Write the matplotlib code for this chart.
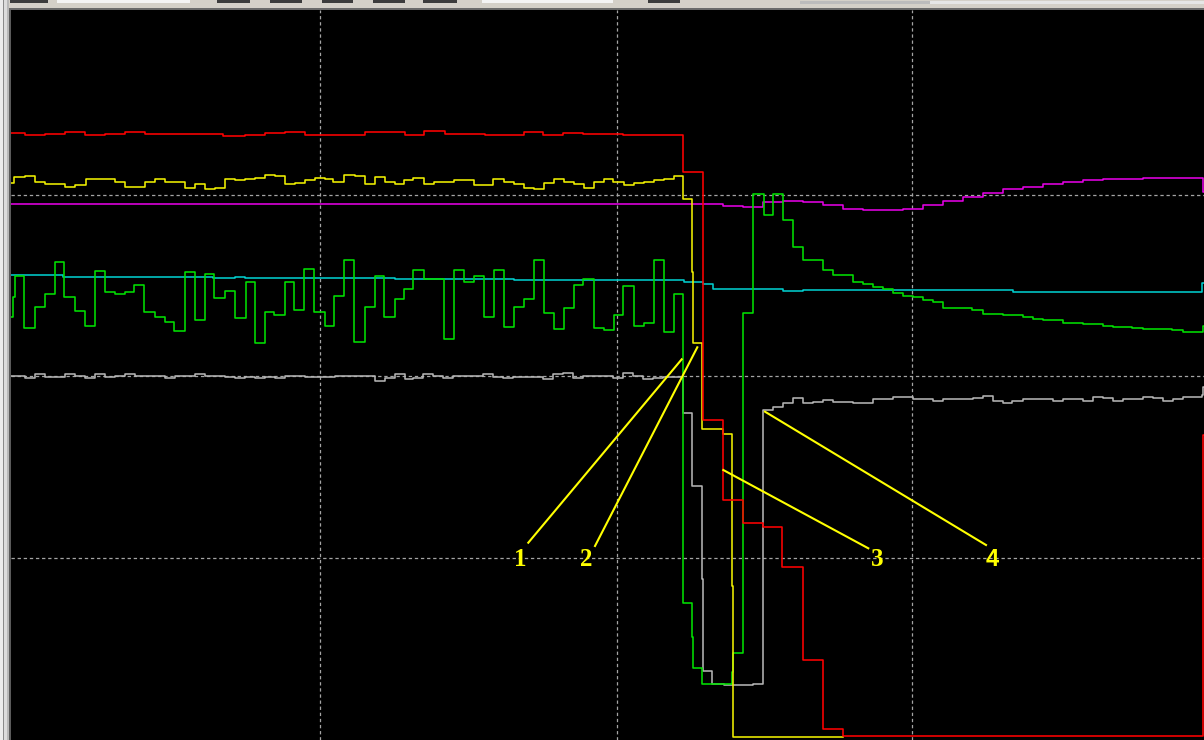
import matplotlib
matplotlib.use("Agg")
import matplotlib.pyplot as plt
from matplotlib.patches import Rectangle

# strip-chart recording: x in samples, y in raw counts (0 at the bottom of the trace area)

red_x = [11, 25, 45, 65, 85, 105, 125, 145, 223, 245, 265, 285, 305, 365, 405, 424, 445, 485,
         524, 543, 563, 583, 623, 683, 703, 723, 743, 763, 782, 803, 823, 843, 1203, 1204]
red_v = [607, 605, 606.5, 608, 605, 606.5, 608, 606.5, 604, 605.5, 607, 608, 605.5, 608, 605, 609, 606.5, 605,
         608, 605, 607.5, 606.5, 605, 568, 320, 240, 217, 213, 173, 80, 11, 4, 305, 305]

yellow_x = [11, 14, 25, 35, 45, 65, 75, 86, 115, 125, 145, 155, 165, 185, 195, 205, 215, 225, 235, 245,
            255, 265, 275, 285, 295, 305, 315, 325, 333, 344, 355, 365, 375, 385, 395, 404, 413, 424, 434, 454,
            474, 493, 504, 514, 524, 534, 544, 554, 564, 574, 584, 594, 604, 613, 624, 634, 644, 654, 664, 674,
            683, 692, 693, 702, 723, 732, 733, 843]
yellow_v = [557.3, 562.7, 564, 558.3, 556, 553.3, 555, 561.3, 558.3, 553.3, 558, 561.3, 558.3, 552, 555.7, 551, 552.3, 561.3, 560, 561.3,
            562.3, 565, 564, 556, 557.3, 560, 562.3, 561.3, 558.3, 565, 564, 556, 562.7, 558.3, 556, 560, 562, 556, 558.3, 560,
            555, 561.3, 558.3, 556, 552.3, 551, 557.3, 561.3, 558.3, 556, 552.3, 558.3, 561.3, 558.3, 555, 557.3, 558.3, 560, 561.3, 564,
            541, 468, 397, 311, 306, 154, 3, 3]

magenta_x = [11, 723, 743, 763, 783, 803, 823, 843, 863, 903, 923, 943, 963, 983, 1003, 1023, 1043,
             1063, 1083, 1103, 1143, 1203, 1204]
magenta_v = [535.7, 534, 532.7, 538, 539.3, 538, 535.3, 531.3, 530.3, 531.3, 535.3, 539.3, 543, 547, 551, 553.3, 556,
             558.3, 560, 561.3, 562.3, 548, 548]

cyan_x = [11, 63, 213, 235, 245, 395, 514, 684, 703, 713, 783, 803, 1013, 1202, 1204]
cyan_v = [465, 463.3, 462, 463.3, 462, 461, 459.7, 458, 456, 451, 449, 450, 448, 457, 457]

green_x = [11, 13.3, 15, 24, 35, 45, 55, 64.3, 75, 85, 95, 105, 115, 125, 134.3, 144.3, 155, 165, 174.3, 185,
           195, 205, 214.3, 225, 235, 245.7, 255, 265, 274.3, 285, 294.3, 304.3, 314.3, 325, 334.3, 344.3, 354.3, 365, 375, 384.3,
           395, 404, 413.3, 424, 444, 454, 464.3, 474, 484, 494, 504, 514.3, 524.3, 534, 544, 554, 564, 574, 583.3, 594,
           604, 614, 623.3, 634, 644, 654, 664, 674, 683, 692, 693, 702, 732, 733, 743, 753, 764, 773, 783, 793,
           803, 823, 833, 853, 863, 873, 883, 893, 903, 913, 923, 933, 943, 972, 983, 1003, 1023, 1033, 1043, 1063,
           1083, 1103, 1113, 1132, 1143, 1172, 1183, 1203, 1204]
green_v = [422.7, 443.3, 464, 412.3, 432.7, 446, 477.7, 443.3, 429.3, 414.3, 469, 448.3, 446, 448.3, 455, 427.7, 423.3, 417.7, 409.3, 467.7,
           420, 465.7, 441.7, 449.3, 421.7, 458.3, 396.7, 427.7, 425, 458.3, 430, 471, 427.7, 414.3, 444.3, 480, 398.3, 432.7, 464, 423.3,
           440.7, 450.7, 470, 461, 400.7, 470, 458.3, 464, 423.3, 470, 413.3, 432.7, 440.7, 480, 426.7, 410.7, 431.7, 455, 460.7, 412.3,
           410, 425, 454.3, 414.3, 416.7, 480, 408.3, 445.7, 137.3, 103, 72, 56, 68, 87, 427, 546, 525.3, 546, 520, 493.3,
           480, 470, 465, 458.3, 456, 453.3, 450.7, 446.7, 444, 442.7, 440, 437.7, 432.3, 430, 426, 425, 423.3, 421, 420, 417.3,
           416, 414, 413.3, 412.3, 411, 410, 408.3, 414, 414]

gray_x = [11, 25, 35, 45, 65, 75, 85, 95, 105, 115, 125, 135, 165, 175, 195, 205, 225, 235, 245, 255,
          265, 275, 285, 305, 335, 375, 385, 395, 405, 413, 423, 433, 443, 453, 483, 493, 503, 513, 543, 553,
          563, 573, 583, 613, 623, 633, 643, 653, 663, 683, 692, 702, 703, 712, 724, 753, 763, 773, 783, 793,
          803, 813, 823, 833, 853, 873, 893, 913, 933, 943, 973, 983, 993, 1003, 1012, 1023, 1053, 1063, 1083, 1093,
          1103, 1113, 1123, 1143, 1153, 1163, 1173, 1183, 1202, 1203, 1204]
gray_v = [364.3, 362.3, 365.7, 362.7, 365.7, 364.3, 362.3, 366, 362.7, 364.3, 365.7, 364.3, 362.3, 364.3, 365.7, 364.3, 363.3, 362.3, 363.3, 362.3,
          363.3, 362.3, 364.3, 363.3, 364.3, 359.3, 361.7, 365.7, 360.7, 362.3, 365.7, 364.3, 362.3, 364.3, 365.7, 363.3, 362.3, 363.3, 360.7, 365.7,
          367.3, 362.3, 364, 362.3, 366.7, 364.3, 360.7, 362.3, 363.3, 327.3, 254, 161, 69.3, 56, 54.7, 56, 330, 333.3, 337, 342,
          337, 338.3, 340, 338.3, 337.3, 340.7, 342.7, 341, 339.3, 341, 341.7, 344.3, 339.3, 336.7, 339, 341, 339.3, 341, 339.3, 343.3,
          341.7, 339.3, 341, 343.3, 341.7, 339.3, 341, 343.3, 345, 353.3, 353.3]

# event markers: label, label position, leader line from label to trace
marker_labels = ["1", "2", "3", "4"]
marker_text_x = [520.7, 586, 877.3, 992.3]
marker_text_v = [180, 180, 180, 180]
marker_from_x = [528.3, 595, 868.3, 986]
marker_from_v = [197.3, 194, 191.7, 195]
marker_to_x = [681.7, 697.3, 723.3, 765]
marker_to_v = [380.7, 392.7, 270, 328.3]
marker_fonts = ["Liberation Serif", "Liberation Serif", "Liberation Serif", "Liberation Sans"]

grid_x = [320, 616.5, 912]
grid_v = [181.7, 364.3, 545]

plt.rcParams["lines.scale_dashes"] = False

W, H = 1204, 740
fig = plt.figure(figsize=(W / 100, H / 100), dpi=100, facecolor="#d4d0c8")
ax = fig.add_axes([11 / W, 0, (W - 11) / W, (H - 9.5) / H])
ax.set_facecolor("black")
ax.set_xlim(11, 1204)
ax.set_ylim(0, 730.5)
ax.set_xticks([])
ax.set_yticks([])
for s in ax.spines.values():
    s.set_visible(False)

for gx in grid_x:
    ax.axvline(gx, color="#a4a4a4", lw=0.9, dashes=(2.4, 2.0), zorder=1)
for gv in grid_v:
    ax.axhline(gv, color="#a4a4a4", lw=0.9, dashes=(2.4, 2.0), zorder=1)

lw = 1.15
ax.step(cyan_x, cyan_v, where="post", color="#00cccc", lw=lw, zorder=2)
ax.step(magenta_x, magenta_v, where="post", color="#e400e4", lw=lw, zorder=2)
ax.step(gray_x, gray_v, where="post", color="#b4b4b4", lw=lw, zorder=3)
ax.step(green_x, green_v, where="post", color="#00e000", lw=lw, zorder=4)
ax.step(yellow_x, yellow_v, where="post", color="#f0f000", lw=lw, zorder=5)
ax.step(red_x, red_v, where="post", color="#ff0000", lw=lw, zorder=6)

for lab, tx, tv, x0, v0, x1, v1, fam in zip(marker_labels, marker_text_x, marker_text_v,
                                             marker_from_x, marker_from_v, marker_to_x, marker_to_v,
                                             marker_fonts):
    ax.plot([x0, x1], [v0, v1], color="#ffff00", lw=1.5, zorder=8)
    ax.text(tx, tv, lab, color="#ffff00", fontsize=18 if "Serif" in fam else 17,
            fontweight="bold", family=fam, ha="center", va="center", zorder=9)


# window chrome around the trace area (pixel boxes measured from the top-left)
def box(x0, y0, w, h, color):
    fig.add_artist(Rectangle((x0 / W, 1 - (y0 + h) / H), w / W, h / H,
                             transform=fig.transFigure, color=color, lw=0, zorder=10))


box(0, 0, 3, H, "#ececec")
box(3, 0, 1.2, H, "#8a8a8a")
box(4.2, 0, 3, H, "#dcdcdc")
box(7.2, 0, 2.2, H, "#b8b8b8")
box(9.4, 8, 1.6, H, "#5a5a5a")
box(9.4, 8, W, 1.5, "#6a6a6a")
box(57, 0, 133, 3, "#f4f4f4")
box(482, 0, 131, 3, "#f4f4f4")
box(800, 1, 130, 3, "#bcbcbc")
box(930, 1, 274, 3, "#e6e6e6")
for bx, bw in [(10, 38), (217, 33), (270, 32), (322, 31), (373, 32), (423, 34), (648, 32)]:
    box(bx, 0, bw, 3, "#3c3c3c")

fig.savefig("out.png", dpi=100, facecolor=fig.get_facecolor())
